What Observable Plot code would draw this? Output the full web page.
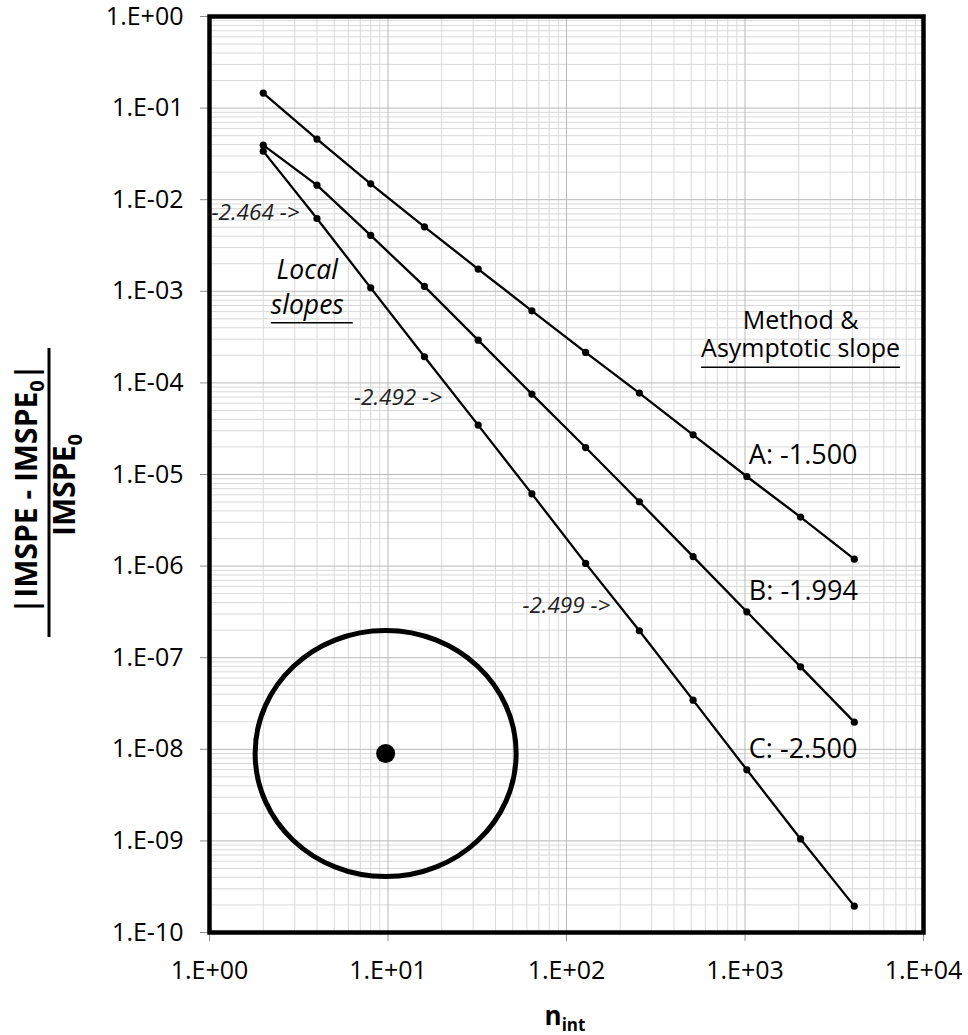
<!DOCTYPE html>
<html><head><meta charset="utf-8">
<script src="https://cdn.jsdelivr.net/npm/d3@7"></script>
<script src="https://cdn.jsdelivr.net/npm/@observablehq/plot@0.6"></script>
<style>
body{margin:0;background:#fff;}
#chart{width:968px;height:1035px;}
</style></head><body><div id="chart"></div>
<script>
// ---- data ----
const nInt = [2, 4, 8, 16, 32, 64, 128, 256, 512, 1024, 2048, 4096];
const methodA = [0.146, 0.0459, 0.0149, 0.00506, 0.00175, 6.12e-4, 2.15e-4, 7.74e-5, 2.71e-5, 9.51e-6, 3.43e-6, 1.19e-6];
const methodB = [0.0394, 0.0144, 0.00407, 0.00113, 2.93e-4, 7.55e-5, 1.97e-5, 5.04e-6, 1.27e-6, 3.17e-7, 7.95e-8, 1.98e-8];
const methodC = [0.0339, 0.00623, 0.00109, 1.93e-4, 3.46e-5, 6.15e-6, 1.07e-6, 1.97e-7, 3.44e-8, 5.97e-9, 1.05e-9, 1.94e-10];
const methodNames = ["A", "B", "C"];
const asymptoticSlopes = ["-1.500", "-1.994", "-2.500"];
const labelAtN = 1024;

const xTicks = [1, 10, 100, 1000, 10000];
const xTickLabels = ["1.E+00", "1.E+01", "1.E+02", "1.E+03", "1.E+04"];
const yTicks = [1, 1e-1, 1e-2, 1e-3, 1e-4, 1e-5, 1e-6, 1e-7, 1e-8, 1e-9, 1e-10];
const yTickLabels = ["1.E+00", "1.E-01", "1.E-02", "1.E-03", "1.E-04", "1.E-05", "1.E-06", "1.E-07", "1.E-08", "1.E-09", "1.E-10"];

const localSlopeLabels = ["-2.464 ->", "-2.492 ->", "-2.499 ->"];
const localSlopeN = [3.195, 20.07, 176.2];
const localSlopeV = [6.07e-3, 5.69e-5, 3.04e-7];

const headerLines = ["Method &", "Asymptotic slope"];
const headerN = 2048;
const headerV = [3.9e-4, 1.9e-4];
const localTitle = ["Local", "slopes"];
const localTitleN = 3.53;
const localTitleV = [1.37e-3, 5.69e-4];
const markerN = 9.7;
const markerV = 9.0e-9;

// ---- derived tables ----
const series = [methodA, methodB, methodC];
const rows = series.flatMap((vals, s) => vals.map((v, i) => ({method: methodNames[s], n: nInt[i], v})));
const li = nInt.indexOf(labelAtN);
const methodLabels = series.map((vals, s) => ({n: nInt[li], v: vals[li], text: methodNames[s] + ": " + asymptoticSlopes[s]}));
const localRows = localSlopeLabels.map((t, i) => ({n: localSlopeN[i], v: localSlopeV[i], text: t}));

const xMinor = [], yMinor = [];
for (let e = 0; e < 4; e++) for (let m = 2; m <= 9; m++) xMinor.push(m * Math.pow(10, e));
for (let e = -10; e < 0; e++) for (let m = 2; m <= 9; m++) yMinor.push(m * Math.pow(10, e));

const ellipseSymbol = {
  draw(ctx) {
    const rx = 130.5, ry = 123, k = 0.5523;
    ctx.moveTo(rx, 0);
    ctx.bezierCurveTo(rx, ry * k, rx * k, ry, 0, ry);
    ctx.bezierCurveTo(-rx * k, ry, -rx, ry * k, -rx, 0);
    ctx.bezierCurveTo(-rx, -ry * k, -rx * k, -ry, 0, -ry);
    ctx.bezierCurveTo(rx * k, -ry, rx, -ry * k, rx, 0);
    ctx.closePath();
  }
};

const FONT = "Open Sans";

const svg = Plot.plot({
  width: 968,
  height: 1035,
  marginLeft: 209,
  marginRight: 45,
  marginTop: 16,
  marginBottom: 103,
  style: {fontFamily: FONT, background: "white", color: "black"},
  x: {type: "log", domain: [1, 10000]},
  y: {type: "log", domain: [1e-10, 1]},
  marks: [
    Plot.ruleX(xMinor, {stroke: "#d9d9d9", strokeWidth: 1}),
    Plot.ruleY(yMinor, {stroke: "#d9d9d9", strokeWidth: 1}),
    Plot.ruleX(xTicks, {stroke: "#b9b9b9", strokeWidth: 1}),
    Plot.ruleY(yTicks, {stroke: "#b9b9b9", strokeWidth: 1}),
    Plot.axisX(xTicks, {tickFormat: d => xTickLabels[xTicks.indexOf(d)], tickSize: 9, tickPadding: 20, stroke: "#8f8f8f", fill: "black", fontSize: 25, label: null}),
    Plot.axisY(yTicks, {tickFormat: d => yTickLabels[yTicks.indexOf(d)], tickSize: 9, tickPadding: 17, stroke: "#8f8f8f", fill: "black", fontSize: 25, label: null}),
    Plot.dot([{n: markerN, v: markerV}], {x: "n", y: "v", symbol: ellipseSymbol, r: 1, stroke: "black", strokeWidth: 5, fill: "none"}),
    Plot.dot([{n: markerN, v: markerV}], {x: "n", y: "v", r: 9.5, fill: "black", stroke: "none"}),
    Plot.line(rows, {x: "n", y: "v", z: "method", stroke: "black", strokeWidth: 2.3}),
    Plot.dot(rows, {x: "n", y: "v", r: 3.6, fill: "black", stroke: "none"}),
    Plot.text(methodLabels, {x: "n", y: "v", text: "text", textAnchor: "start", lineAnchor: "bottom", dx: 2, dy: -12, fontSize: 27, fill: "black"}),
    Plot.text(localRows, {x: "n", y: "v", text: "text", textAnchor: "end", lineAnchor: "bottom", fontSize: 22.5, fontStyle: "italic", fill: "#222"}),
    Plot.text([{n: headerN, v: headerV[0], t: headerLines[0]}], {x: "n", y: "v", text: "t", textAnchor: "middle", lineAnchor: "bottom", fontSize: 25, fill: "black"}),
    Plot.text([{n: headerN, v: headerV[1], t: headerLines[1]}], {x: "n", y: "v", text: "t", textAnchor: "middle", lineAnchor: "bottom", fontSize: 25, fill: "black"}),
    Plot.text([{n: localTitleN, v: localTitleV[0], t: localTitle[0]}], {x: "n", y: "v", text: "t", textAnchor: "middle", lineAnchor: "bottom", fontSize: 26.5, fontStyle: "italic", fill: "black"}),
    Plot.text([{n: localTitleN, v: localTitleV[1], t: localTitle[1]}], {x: "n", y: "v", text: "t", textAnchor: "middle", lineAnchor: "bottom", fontSize: 26.5, fontStyle: "italic", fill: "black"}),
    Plot.frame({stroke: "black", strokeWidth: 4.5})
  ]
});
document.getElementById("chart").appendChild(svg);

const s = d3.select(svg);
const svgBox = svg.getBoundingClientRect();

// underlines beneath the two annotation headers
function underline(str, below, extendRight) {
  s.selectAll("text").filter(function() { return this.textContent === str; }).each(function() {
    const b = this.getBoundingClientRect();
    const y = b.bottom - svgBox.top + below;
    s.append("line").attr("x1", b.left - svgBox.left).attr("x2", b.right - svgBox.left + extendRight)
      .attr("y1", y).attr("y2", y).attr("stroke", "black").attr("stroke-width", 1.5);
  });
}
underline(localTitle[1], 1, 9);
underline(headerLines[1], 3, 0);

// axis titles (rich text with subscripts)
const g = s.append("g").attr("font-family", FONT).attr("font-weight", "bold").attr("fill", "black");
const num = g.append("text").attr("transform", "translate(37,489) rotate(-90)").attr("text-anchor", "middle").attr("font-size", 30);
num.append("tspan").text("|IMSPE - IMSPE");
num.append("tspan").attr("font-size", 20).attr("dy", 7).text("0");
num.append("tspan").attr("dy", -7).text("|");
g.append("line").attr("x1", 49).attr("x2", 49).attr("y1", 348).attr("y2", 637).attr("stroke", "black").attr("stroke-width", 3);
const den = g.append("text").attr("transform", "translate(75,485) rotate(-90)").attr("text-anchor", "middle").attr("font-size", 30);
den.append("tspan").text("IMSPE");
den.append("tspan").attr("font-size", 20).attr("dy", 7).text("0");
const xt = g.append("text").attr("x", 565).attr("y", 1025).attr("text-anchor", "middle").attr("font-size", 26);
xt.append("tspan").text("n");
xt.append("tspan").attr("font-size", 17).attr("dy", 6).text("int");
</script></body></html>
